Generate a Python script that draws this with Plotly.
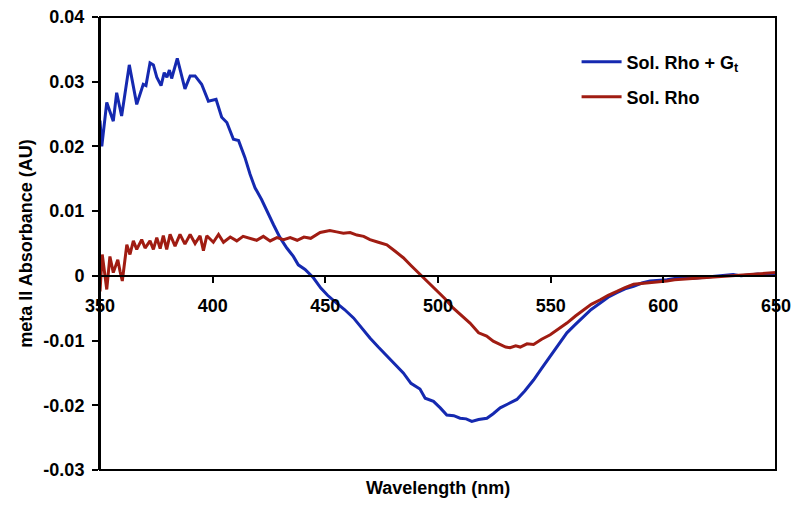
import plotly.graph_objects as go

# Sol. Rho + Gt (blue)
wl_gt = [350.0, 350.8, 353.0, 355.9, 357.4, 359.6, 363.0, 366.3, 369.2, 370.4, 372.2, 373.7, 375.2,
         377.1, 378.5, 379.7, 380.8, 381.8, 384.3, 387.7, 390.0, 392.2, 395.1, 398.1, 401.5, 404.0,
         406.3, 409.2, 411.5, 414.3, 416.6, 418.8, 421.7, 424.0, 427.0, 429.9, 432.9, 435.8, 438.0,
         441.0, 444.7, 448.0, 451.0, 455.0, 458.5, 462.5, 466.0, 469.8, 473.5, 477.3, 481.0, 484.6,
         488.0, 492.0, 494.3, 498.0, 501.0, 503.9, 507.0, 509.8, 512.5, 515.0, 518.0, 521.7, 524.5,
         527.6, 531.0, 535.0, 538.5, 542.4, 546.0, 549.8, 553.5, 557.2, 561.0, 564.6, 568.0, 572.0,
         575.5, 579.4, 583.0, 586.8, 590.5, 594.1, 598.0, 601.6, 605.0, 609.0, 612.5, 616.0, 620.0,
         624.0, 627.5, 631.0, 634.5, 638.0, 642.0, 645.0, 648.0, 650.0]
abs_gt = [0.0240, 0.0200, 0.0268, 0.0239, 0.0283, 0.0247, 0.0326, 0.0265, 0.0296, 0.0294, 0.0329,
          0.0326, 0.0307, 0.0294, 0.0314, 0.0307, 0.0318, 0.0305, 0.0336, 0.0289, 0.0309, 0.0309,
          0.0296, 0.0270, 0.0273, 0.0245, 0.0237, 0.0211, 0.0209, 0.0183, 0.0157, 0.0136, 0.0118,
          0.0100, 0.0079, 0.0059, 0.0043, 0.0030, 0.0017, 0.0010, -0.0003, -0.0019, -0.0030, -0.0042,
          -0.0052, -0.0065, -0.0080, -0.0096, -0.0110, -0.0124, -0.0137, -0.0150, -0.0166, -0.0175,
          -0.0189, -0.0194, -0.0204, -0.0215, -0.0216, -0.0220, -0.0221, -0.0225, -0.0222, -0.0220,
          -0.0213, -0.0204, -0.0198, -0.0191, -0.0178, -0.0161, -0.0143, -0.0124, -0.0106, -0.0088,
          -0.0075, -0.0063, -0.0052, -0.0042, -0.0033, -0.0026, -0.0020, -0.0016, -0.0011, -0.0008,
          -0.0007, -0.0006, -0.0004, -0.0003, -0.0004, -0.0003, -0.0001, -0.0001, 0.0001, 0.0002,
          0.0000, 0.0001, 0.0003, 0.0001, 0.0002, 0.0003]

# Sol. Rho (red)
wl_rho = [350.0, 351.0, 353.0, 354.4, 355.9, 357.9, 358.9, 359.9, 361.9, 363.3, 364.8, 366.3, 368.5,
          370.0, 372.2, 373.7, 375.2, 376.7, 378.1, 379.6, 381.1, 383.3, 385.5, 387.7, 390.0, 392.2,
          394.4, 395.9, 397.4, 400.3, 402.6, 404.8, 407.8, 410.7, 413.5, 416.6, 419.5, 422.5, 425.5,
          428.5, 431.5, 434.4, 437.5, 440.5, 443.5, 447.7, 452.0, 455.0, 458.0, 461.0, 464.0, 467.0,
          469.8, 473.5, 477.3, 481.0, 484.6, 488.0, 492.0, 495.5, 499.4, 503.0, 506.8, 510.5, 514.2,
          518.0, 521.6, 524.5, 527.6, 530.0, 532.0, 534.5, 536.5, 539.5, 542.4, 546.0, 549.8, 553.5,
          557.2, 561.0, 564.6, 568.0, 572.0, 575.5, 579.4, 583.0, 586.8, 590.5, 594.0, 598.0, 601.6,
          605.0, 609.0, 613.0, 617.0, 621.0, 625.0, 630.0, 635.0, 640.0, 645.0, 648.0, 650.0]
abs_rho = [-0.0024, 0.0033, -0.0021, 0.0030, 0.0005, 0.0025, 0.0007, -0.0008, 0.0048, 0.0033, 0.0054,
           0.0041, 0.0056, 0.0043, 0.0054, 0.0041, 0.0059, 0.0042, 0.0062, 0.0041, 0.0064, 0.0046,
           0.0064, 0.0049, 0.0064, 0.0050, 0.0062, 0.0039, 0.0062, 0.0052, 0.0064, 0.0052, 0.0060,
           0.0054, 0.0061, 0.0058, 0.0055, 0.0061, 0.0054, 0.0059, 0.0056, 0.0059, 0.0055, 0.0060,
           0.0058, 0.0067, 0.0070, 0.0068, 0.0066, 0.0067, 0.0063, 0.0061, 0.0056, 0.0052, 0.0048,
           0.0038, 0.0028, 0.0016, 0.0002, -0.0010, -0.0024, -0.0035, -0.0050, -0.0062, -0.0073,
           -0.0088, -0.0093, -0.0101, -0.0106, -0.0110, -0.0111, -0.0108, -0.0110, -0.0105, -0.0106,
           -0.0098, -0.0091, -0.0082, -0.0073, -0.0062, -0.0052, -0.0044, -0.0037, -0.0030, -0.0024,
           -0.0018, -0.0013, -0.0012, -0.0011, -0.0009, -0.0008, -0.0006, -0.0005, -0.0004, -0.0003,
           -0.0002, -0.0001, 0.0000, 0.0001, 0.0002, 0.0003, 0.0004, 0.0005]

x_ticks = [350, 400, 450, 500, 550, 600, 650]
y_ticks = [0.04, 0.03, 0.02, 0.01, 0, -0.01, -0.02, -0.03]
y_tick_text = ["0.04", "0.03", "0.02", "0.01", "0", "-0.01", "-0.02", "-0.03"]

FONT = "Liberation Sans, Arial, sans-serif"
BLUE = "#1529b0"
RED = "#a01c12"

fig = go.Figure()
fig.add_trace(go.Scatter(x=wl_gt, y=abs_gt, mode="lines", name="Sol. Rho + G<sub>t</sub>",
                         line=dict(color=BLUE, width=3), legend="legend"))
fig.add_trace(go.Scatter(x=wl_rho, y=abs_rho, mode="lines", name="Sol. Rho",
                         line=dict(color=RED, width=3), legend="legend2"))

y_lo, y_hi = -0.03, 0.04
zero_pos = (0 - y_lo) / (y_hi - y_lo)

fig.update_layout(
    width=800, height=507,
    margin=dict(l=100, r=24, t=17, b=37),
    showlegend=True,
    paper_bgcolor="white", plot_bgcolor="white",
    font=dict(family=FONT, color="black", size=17, weight="bold"),
    xaxis=dict(range=[350, 650], tickvals=x_ticks, anchor="free", position=zero_pos,
               showline=True, linecolor="black", linewidth=2, ticks="outside", ticklen=6,
               tickwidth=2, tickcolor="black", showgrid=False, zeroline=False,
               ticklabelstandoff=8, automargin=False,
               tickfont=dict(family=FONT, size=18, weight="bold", color="black")),
    yaxis=dict(range=[y_lo, y_hi], tickvals=y_ticks, ticktext=y_tick_text,
               showline=True, linecolor="black", linewidth=2, ticks="outside", ticklen=6,
               tickwidth=2, tickcolor="black", showgrid=False, zeroline=False,
               ticklabelstandoff=4, automargin=False,
               tickfont=dict(family=FONT, size=18, weight="bold", color="black"),
               title=dict(text="meta II Absorbance (AU)", standoff=6,
                          font=dict(family=FONT, size=18, weight="bold", color="black"))),
    legend=dict(x=0.705, y=0.9007, xanchor="left", yanchor="middle", bgcolor="rgba(0,0,0,0)",
                font=dict(family=FONT, size=18, weight="bold", color="black"), itemwidth=40),
    legend2=dict(x=0.705, y=0.8234, xanchor="left", yanchor="middle", bgcolor="rgba(0,0,0,0)",
                 font=dict(family=FONT, size=18, weight="bold", color="black"), itemwidth=40),
    shapes=[dict(type="rect", xref="x domain", yref="y domain", x0=0, x1=1, y0=0, y1=1,
                 line=dict(color="black", width=2), layer="above")],
    annotations=[dict(text="Wavelength (nm)", xref="x domain", yref="paper", x=0.5, y=0,
                      xanchor="center", yanchor="top", yshift=-6, showarrow=False,
                      font=dict(family=FONT, size=18, weight="bold", color="black"))],
)

fig.write_html("out.html", config={"displayModeBar": False},
               post_script="document.body.style.margin='0';")
